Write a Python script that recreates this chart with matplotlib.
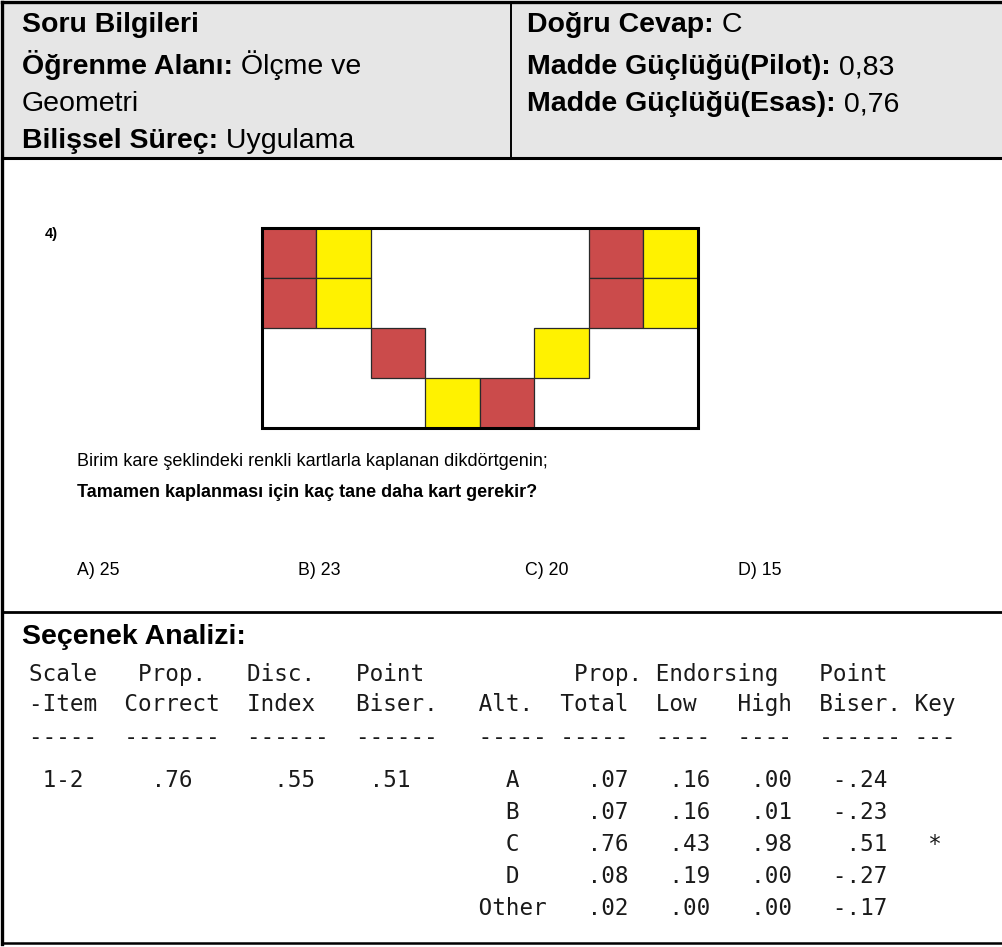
"""Soru bilgileri kartı: başlık, kart ızgarası sorusu ve seçenek analizi tablosu."""
import matplotlib
matplotlib.use("Agg")
import matplotlib.pyplot as plt
from matplotlib.patches import Rectangle

# --- veri ---
header_left = [("Soru Bilgileri", ""), ("Öğrenme Alanı:", " Ölçme ve"),
               ("", "Geometri"), ("Bilişsel Süreç:", " Uygulama")]
header_right = [("Doğru Cevap:", " C"), ("Madde Güçlüğü(Pilot):", " 0,83"),
                ("Madde Güçlüğü(Esas):", " 0,76")]

# R = kırmızı kart, Y = sarı kart, . = boş birim kare
card_rows = ["RY....RY",
             "RY....RY",
             "..R..Y..",
             "...YR..."]
question_no = "4)"
stem_text = "Birim kare şeklindeki renkli kartlarla kaplanan dikdörtgenin;"
question_text = "Tamamen kaplanması için kaç tane daha kart gerekir?"
option_labels = ["A", "B", "C", "D"]
option_values = [25, 23, 20, 15]

scale_item = "1-2"
prop_correct = 0.76
disc_index = 0.55
point_biser = 0.51
alts = ["A", "B", "C", "D", "Other"]
prop_total = [0.07, 0.07, 0.76, 0.08, 0.02]
prop_low = [0.16, 0.16, 0.43, 0.19, 0.00]
prop_high = [0.00, 0.01, 0.98, 0.00, 0.00]
alt_biser = [-0.24, -0.23, 0.51, -0.27, -0.17]
key_alt = "C"

COLORS = {"gray": "#E6E6E6", "red": "#CB4B4B", "yellow": "#FFF200",
          "text": "#000000", "mono": "#1a1a1a"}
SANS = ["Liberation Sans", "DejaVu Sans"]
HEAD_SIZE = 20.5

fig = plt.figure(figsize=(10.02, 9.47), dpi=100)
ax = fig.add_axes([0, 0, 1, 1])
ax.set_xlim(0, 1002)
ax.set_ylim(947, 0)
ax.axis("off")
renderer = fig.canvas.get_renderer()

# --- çerçeve ---
ax.add_patch(Rectangle((2, 2), 1010, 156, facecolor=COLORS["gray"], edgecolor="none"))
ax.plot([2, 2], [2, 944], color="black", lw=2.4)
for y, lw in [(2, 2.4), (158, 2.2), (612, 2.0), (943, 1.8)]:
    ax.plot([2, 1002], [y, y], color="black", lw=lw)
ax.plot([511, 511], [2, 158], color="black", lw=1.4)


def label(x, y, bold, regular, size=HEAD_SIZE):
    if bold:
        t = ax.text(x, y, bold, fontsize=size, family=SANS, fontweight="bold",
                    va="baseline", ha="left")
        # regular kısım aynı taban çizgisinde, kalın metnin bittiği yerden başlar
        x = ax.transData.inverted().transform(
            (t.get_window_extent(renderer).x1, 0))[0]
    if regular:
        ax.text(x, y, regular, fontsize=size, family=SANS, va="baseline", ha="left")


for (b, r), y in zip(header_left, [32, 74, 111, 148]):
    label(22, y, b, r)
for (b, r), y in zip(header_right, [32, 74, 111]):
    label(527, y, b, r)

# --- kart ızgarası ---
gx, gy, cw, ch = 262, 228, 54.5, 50
n_rows, n_cols = len(card_rows), len(card_rows[0])
for i, row in enumerate(card_rows):
    for j, c in enumerate(row):
        if c == ".":
            continue
        face = COLORS["red"] if c == "R" else COLORS["yellow"]
        ax.add_patch(Rectangle((gx + j * cw, gy + i * ch), cw, ch,
                               facecolor=face, edgecolor="#2a2a2a", lw=0.9))
ax.add_patch(Rectangle((gx, gy), n_cols * cw, n_rows * ch, facecolor="none",
                       edgecolor="black", lw=2.2))

ax.text(45, 234, question_no, fontsize=10.5, fontweight="bold", family=SANS, va="center")
ax.text(77, 461, stem_text, fontsize=13, family=SANS, va="center")
ax.text(77, 492, question_text, fontsize=13, fontweight="bold", family=SANS, va="center")
for lab, val, x in zip(option_labels, option_values, [77, 298, 525, 738]):
    ax.text(x, 570, f"{lab}) {val}", fontsize=12.8, family=SANS, va="center")

# --- seçenek analizi ---
label(22, 644, "Seçenek Analizi:", "")


def f2(v):
    s = f"{v:.2f}"
    return s.replace("0.", ".", 1)


def line(parts, width=70):
    chars = [" "] * width
    for col, s in parts:
        chars[col:col + len(s)] = list(s)
    return "".join(chars).rstrip()


def right(end, s):
    return (end - len(s), s)


lines = [
    line([(0, "Scale"), (8, "Prop."), (16, "Disc."), (24, "Point"),
          (40, "Prop. Endorsing"), (58, "Point")]),
    line([(0, "-Item"), (7, "Correct"), (16, "Index"), (24, "Biser."), (33, "Alt."),
          (39, "Total"), (46, "Low"), (52, "High"), (58, "Biser."), (65, "Key")]),
    line([(0, "-----"), (7, "-------"), (16, "------"), (24, "------"), (33, "-----"),
          (39, "-----"), (46, "----"), (52, "----"), (58, "------"), (65, "---")]),
]
rows_y = [674, 704, 737]
for k, a in enumerate(alts):
    parts = [(36 - len(a) // 2 - (len(a) % 2), a) if len(a) > 1 else (35, a),
             right(44, f2(prop_total[k])), right(50, f2(prop_low[k])),
             right(56, f2(prop_high[k])), right(63, f2(alt_biser[k]))]
    if k == 0:
        parts = [(1, scale_item), right(12, f2(prop_correct)),
                 right(21, f2(disc_index)), right(28, f2(point_biser))] + parts
    if a == key_alt:
        parts.append((66, "*"))
    lines.append(line(parts))
    rows_y.append(780 + 32 * k)

for s, y in zip(lines, rows_y):
    ax.text(29, y, s, fontsize=16.3, family="DejaVu Sans Mono", va="center",
            ha="left", color=COLORS["mono"])

fig.savefig("out.png", dpi=100, facecolor="white")
